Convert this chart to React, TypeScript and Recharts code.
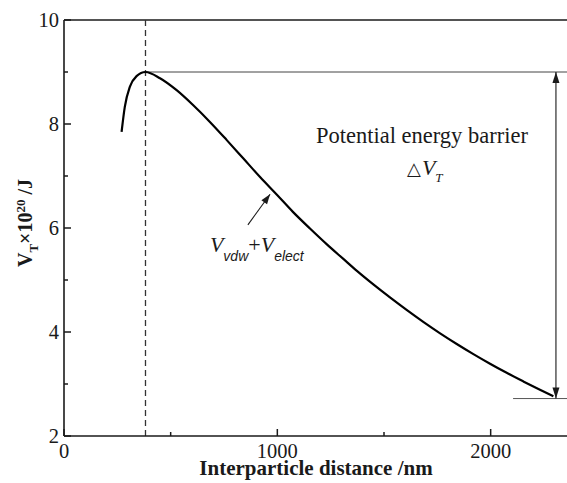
import React from 'react';
import { LineChart, Line, XAxis, YAxis, ReferenceLine, ReferenceDot } from 'recharts';

// Interparticle distance (nm)
const distance = [270, 285, 309, 340, 382, 450, 528, 606, 684, 763, 840, 919, 998, 1073, 1153, 1231, 1308, 1373, 1450, 1528, 1606, 1684, 1763, 1841, 1919, 1997, 2075, 2153, 2231, 2294];
// Total potential V_T x 10^20 (J)
const energy = [7.85, 8.33, 8.72, 8.92, 9.0, 8.88, 8.65, 8.36, 8.04, 7.69, 7.34, 6.98, 6.64, 6.31, 5.99, 5.69, 5.41, 5.175, 4.915, 4.665, 4.425, 4.195, 3.975, 3.77, 3.575, 3.39, 3.215, 3.05, 2.89, 2.765];

const xTicks = [0, 500, 1000, 1500, 2000];
const yTicks = [2, 3, 4, 5, 6, 7, 8, 9, 10];

const xDomain = [0, 2400];
const yDomain = [2, 10];

const peakX = 382;
const peakY = 9.0;
const endY = 2.72;
const barrierArrowX = 2306;
const baseLineStartX = 2105;

const barrierLabel = { x: 1181, y: 7.63 };
const deltaLabel = { x: 1608, y: 7.02 };
const curveLabel = { x: 684, y: 5.54 };
const curveArrowFrom = { x: 862, y: 6.06 };
const curveArrowTo = { x: 966, y: 6.65 };

const data = distance.map((d, i) => ({ d, v: energy[i] }));

const SERIF = '"Liberation Serif", "Times New Roman", serif';
const SANS = '"Liberation Sans", Arial, sans-serif';
const INK = '#1a1a1a';

const YTick = (props: any) => {
  const { x, y, payload } = props;
  const major = payload.value % 2 === 0;
  return (
    <g>
      <line x1={x} x2={x + (major ? 7 : 4)} y1={y} y2={y} stroke={INK} strokeWidth={1.5} />
      {major && (
        <text x={x - 5} y={y} dy="0.36em" textAnchor="end" fontFamily={SERIF} fontSize={20.5} fill={INK}>
          {payload.value}
        </text>
      )}
    </g>
  );
};

const XTick = (props: any) => {
  const { x, y, payload } = props;
  const major = payload.value % 1000 === 0;
  return (
    <g>
      <line x1={x} x2={x} y1={y} y2={y - (major ? 7 : 4)} stroke={INK} strokeWidth={1.5} />
      {major && (
        <text x={x} y={y + 22} textAnchor="middle" fontFamily={SERIF} fontSize={20.5} fill={INK}>
          {payload.value}
        </text>
      )}
    </g>
  );
};

const YTitle = () => (
  <text transform="rotate(-90)" x={-223} y={32} textAnchor="middle" fontFamily={SERIF} fontWeight="bold" fontSize={20} fill={INK}>
    V
    <tspan dy={6} fontSize={13}>T</tspan>
    <tspan dy={-6}>×10</tspan>
    <tspan dy={-7} fontSize={13}>20</tspan>
    <tspan dy={7}> /J</tspan>
  </text>
);

const XTitle = () => (
  <text x={316} y={475} textAnchor="middle" fontFamily={SERIF} fontWeight="bold" fontSize={21} fill={INK}>
    Interparticle distance /nm
  </text>
);

const arrowHead = (x1: number, y1: number, x2: number, y2: number, len: number, half: number) => {
  const dx = x2 - x1;
  const dy = y2 - y1;
  const L = Math.sqrt(dx * dx + dy * dy) || 1;
  const ux = dx / L;
  const uy = dy / L;
  const bx = x2 - ux * len;
  const by = y2 - uy * len;
  return `${x2},${y2} ${bx - uy * half},${by + ux * half} ${bx + uy * half},${by - ux * half}`;
};

const SingleArrow = (p: any) => (
  <g>
    <line x1={p.x1} y1={p.y1} x2={p.x2} y2={p.y2} stroke={INK} strokeWidth={1.1} />
    <polygon points={arrowHead(p.x1, p.y1, p.x2, p.y2, 10, 3.5)} fill={INK} />
  </g>
);

const DoubleArrow = (p: any) => (
  <g>
    <line x1={p.x1} y1={p.y1} x2={p.x2} y2={p.y2} stroke={INK} strokeWidth={1.1} />
    <polygon points={arrowHead(p.x1, p.y1, p.x2, p.y2, 11, 3.5)} fill={INK} />
    <polygon points={arrowHead(p.x2, p.y2, p.x1, p.y1, 11, 3.5)} fill={INK} />
  </g>
);

export default function App() {
  return (
    <div style={{ position: 'absolute', left: 0, top: 0, width: 567, height: 483, overflow: 'hidden', background: '#fff' }}>
      <LineChart width={590} height={483} data={data} margin={{ top: 20, right: 14, bottom: 0, left: 0 }}>
        <XAxis
          dataKey="d"
          type="number"
          domain={xDomain}
          ticks={xTicks}
          interval={0}
          height={47}
          tickSize={0}
          tickMargin={0}
          tickLine={false}
          tick={<XTick />}
          axisLine={{ stroke: INK, strokeWidth: 1.6 }}
          label={<XTitle />}
          allowDataOverflow
        />
        <YAxis
          type="number"
          domain={yDomain}
          ticks={yTicks}
          interval={0}
          width={64}
          tickSize={0}
          tickMargin={0}
          tickLine={false}
          tick={<YTick />}
          axisLine={{ stroke: INK, strokeWidth: 1.6 }}
          label={<YTitle />}
          allowDataOverflow
        />
        <ReferenceLine y={yDomain[1]} stroke={INK} strokeWidth={1.6} />
        <ReferenceLine x={peakX} stroke="#333" strokeWidth={1.3} strokeDasharray="6 4" />
        <ReferenceLine segment={[{ x: peakX, y: peakY }, { x: xDomain[1], y: peakY }]} stroke="#444" strokeWidth={1} />
        <ReferenceLine segment={[{ x: baseLineStartX, y: endY }, { x: xDomain[1], y: endY }]} stroke="#555" strokeWidth={1} />
        <ReferenceLine segment={[{ x: barrierArrowX, y: peakY }, { x: barrierArrowX, y: endY }]} shape={DoubleArrow} />
        <ReferenceLine segment={[curveArrowFrom, curveArrowTo]} shape={SingleArrow} />
        <Line type="monotone" dataKey="v" stroke="#000" strokeWidth={2.2} dot={false} isAnimationActive={false} />
        <ReferenceDot
          x={barrierLabel.x}
          y={barrierLabel.y}
          ifOverflow="visible"
          shape={(p: any) => (
            <text x={p.cx} y={p.cy} fontFamily={SERIF} fontSize={22.5} fill={INK}>
              Potential energy barrier
            </text>
          )}
        />
        <ReferenceDot
          x={deltaLabel.x}
          y={deltaLabel.y}
          ifOverflow="visible"
          shape={(p: any) => (
            <text x={p.cx} y={p.cy} fontFamily={SERIF} fontSize={22} fill={INK}>
              <tspan fontFamily='"DejaVu Sans", sans-serif' fontSize={18}>△</tspan>
              <tspan fontStyle="italic" dx={1}>V</tspan>
              <tspan fontStyle="italic" fontSize={13} dy={7}>T</tspan>
            </text>
          )}
        />
        <ReferenceDot
          x={curveLabel.x}
          y={curveLabel.y}
          ifOverflow="visible"
          shape={(p: any) => (
            <text x={p.cx} y={p.cy} fontFamily={SERIF} fontSize={22} fill={INK}>
              <tspan fontStyle="italic">V</tspan>
              <tspan fontFamily={SANS} fontStyle="italic" fontSize={14} dy={9}>vdw</tspan>
              <tspan dy={-9}>+</tspan>
              <tspan fontStyle="italic">V</tspan>
              <tspan fontFamily={SANS} fontStyle="italic" fontSize={14} dy={9}>elect</tspan>
            </text>
          )}
        />
      </LineChart>
    </div>
  );
}
